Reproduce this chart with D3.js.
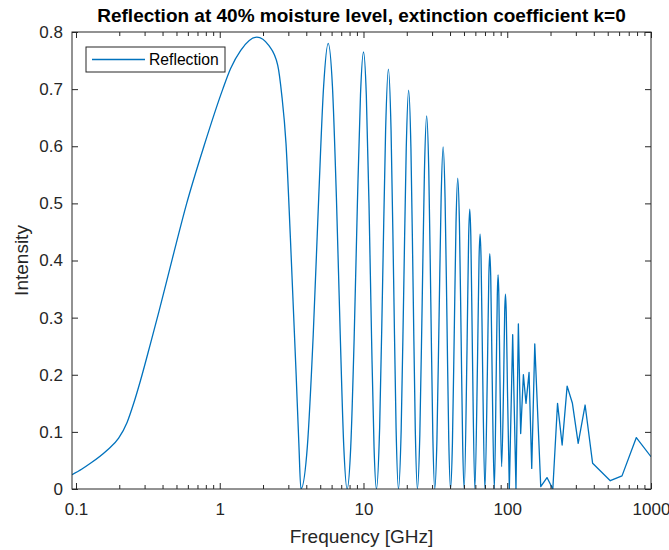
<!DOCTYPE html>
<html>
<head>
<meta charset="utf-8">
<script src="https://cdn.jsdelivr.net/npm/d3@7"></script>
<style>
  body { margin: 0; background: #fff; }
  svg { display: block; font-family: "Liberation Sans", Arial, Helvetica, sans-serif; }
  .tick text { fill: #262626; }
</style>
</head>
<body>
<svg id="chart"></svg>
<script>
// values
var freqGHz = [
  0.0938, 0.11, 0.126, 0.1646, 0.198, 0.227, 0.252, 0.281, 0.33, 0.377, 0.47, 0.589, 0.776, 1.05, 1.19, 1.4, 1.81, 2.2, 2.53, 2.7, 2.89, 3.1, 3.4, 3.55, 3.67,
  4.07, 4.47, 4.88, 5.28, 5.68, 6.08, 6.48, 6.89, 7.29, 7.69,
  8.15, 8.61, 9.07, 9.53, 10.0, 10.46, 10.92, 11.38, 11.84, 12.3,
  12.95, 13.6, 14.25, 14.9, 15.55, 16.2, 16.85, 17.5,
  18.28, 19.05, 19.83, 20.6, 21.38, 22.15, 22.93, 23.7,
  24.65, 25.6, 26.55, 27.5, 28.45, 29.4, 30.35, 31.3,
  32.43, 33.55, 34.68, 35.8, 36.93, 38.05, 39.18, 40.3,
  41.54, 42.78, 44.01, 45.25, 46.49, 47.73, 48.96, 50.2,
  52.5, 53.9, 54.85, 55.8, 57.2, 59.5,
  62.1, 63.66, 64.7, 65.74, 67.3, 69.9,
  72.75, 74.46, 75.6, 76.74, 78.45, 81.3,
  83.8, 85.3, 86.35, 87.4, 88.9, 91.4,
  94.4, 96.0, 97.2, 98.4, 100.4, 103.4,
  109.1, 115, 119.5, 124, 129.5, 135, 141.8, 148, 155.4, 171, 189, 207.5,
  223.8, 240.9, 261, 284, 311.5, 348, 392.6, 521, 628.6, 790.7, 1000
];
var reflection = [
  0.025, 0.035, 0.045, 0.068, 0.089, 0.117, 0.15, 0.19, 0.255, 0.31, 0.405, 0.50, 0.60, 0.70, 0.736, 0.768, 0.791, 0.776, 0.742, 0.69, 0.605, 0.44, 0.20, 0.08, 0,
  0.075, 0.27, 0.51, 0.705, 0.78, 0.705, 0.51, 0.27, 0.075, 0,
  0.073, 0.264, 0.50, 0.69, 0.765, 0.69, 0.50, 0.264, 0.073, 0,
  0.107, 0.368, 0.628, 0.735, 0.628, 0.368, 0.107, 0,
  0.102, 0.349, 0.596, 0.698, 0.596, 0.349, 0.102, 0,
  0.095, 0.327, 0.558, 0.653, 0.558, 0.327, 0.095, 0,
  0.087, 0.30, 0.51, 0.599, 0.51, 0.30, 0.087, 0,
  0.079, 0.272, 0.465, 0.544, 0.465, 0.272, 0.079, 0,
  0.245, 0.443, 0.49, 0.443, 0.245, 0,
  0.223, 0.404, 0.446, 0.404, 0.223, 0,
  0.206, 0.373, 0.412, 0.373, 0.206, 0,
  0.20, 0.34, 0.375, 0.34, 0.20, 0.039,
  0.19, 0.31, 0.341, 0.31, 0.17, 0,
  0.27, 0, 0.289, 0.097, 0.20, 0.15, 0.204, 0.036, 0.254, 0.004, 0.02, 0,
  0.15, 0.077, 0.18, 0.15, 0.08, 0.147, 0.045, 0.0145, 0.023, 0.09, 0.0565
];
// above this frequency the curve is drawn as straight segments (coarse sampling)
var smoothUpTo = 103.4;

var xTicks = [0.1, 1, 10, 100, 1000];
var xTickLabels = ["0.1", "1", "10", "100", "1000"];
var xMinorTicks = [0.2,0.3,0.4,0.5,0.6,0.7,0.8,0.9, 2,3,4,5,6,7,8,9, 20,30,40,50,60,70,80,90, 200,300,400,500,600,700,800,900];
var yTicks = [0, 0.1, 0.2, 0.3, 0.4, 0.5, 0.6, 0.7, 0.8];
var yTickLabels = ["0", "0.1", "0.2", "0.3", "0.4", "0.5", "0.6", "0.7", "0.8"];

var titleText = "Reflection at 40% moisture level, extinction coefficient k=0";
var xLabel = "Frequency [GHz]";
var yLabel = "Intensity";
var seriesName = "Reflection";

var width = 669, height = 550;
var margin = { top: 32, right: 18, bottom: 61, left: 72 };
var plotW = width - margin.left - margin.right;
var plotH = height - margin.top - margin.bottom;
var axisColor = "#262626";
var lineColor = "#0072BD";

var svg = d3.select("#chart").attr("width", width).attr("height", height);
svg.append("rect").attr("width", width).attr("height", height).attr("fill", "#fff");

var x = d3.scaleLog().domain([0.0938, 1000]).range([0, plotW]);
var y = d3.scaleLinear().domain([0, 0.8]).range([plotH, 0]);

var g = svg.append("g").attr("transform", "translate(" + margin.left + "," + margin.top + ")");

g.append("clipPath").attr("id", "clip")
  .append("rect").attr("width", plotW).attr("height", plotH);

var points = freqGHz.map(function(f, i) { return [f, reflection[i]]; });
var smoothPart = points.filter(function(d) { return d[0] <= smoothUpTo; });
var roughPart = points.filter(function(d) { return d[0] >= smoothUpTo; });

var smoothLine = d3.line()
  .curve(d3.curveMonotoneX)
  .x(function(d) { return x(d[0]); })
  .y(function(d) { return y(d[1]); });
var roughLine = d3.line()
  .x(function(d) { return x(d[0]); })
  .y(function(d) { return y(d[1]); });

g.append("path")
  .attr("clip-path", "url(#clip)")
  .attr("fill", "none")
  .attr("stroke", lineColor)
  .attr("stroke-width", 1.3)
  .attr("stroke-linejoin", "round")
  .attr("d", smoothLine(smoothPart) + roughLine(roughPart).replace(/^M/, "L"));

function styleAxis(sel) {
  sel.select(".domain").remove();
  sel.selectAll(".tick line").attr("stroke", axisColor);
}

// bottom axis
g.append("g").attr("transform", "translate(0," + plotH + ")")
  .call(d3.axisBottom(x).tickValues(xTicks).tickFormat(function(d, i) { return xTickLabels[i]; })
    .tickSizeInner(-6).tickSizeOuter(0).tickPadding(14))
  .call(styleAxis)
  .selectAll("text").attr("font-size", "17px");
g.append("g").attr("transform", "translate(0," + plotH + ")")
  .call(d3.axisBottom(x).tickValues(xMinorTicks).tickFormat("").tickSizeInner(-4).tickSizeOuter(0))
  .call(styleAxis);
// top axis
g.append("g")
  .call(d3.axisTop(x).tickValues(xTicks).tickFormat("").tickSizeInner(-6).tickSizeOuter(0))
  .call(styleAxis);
g.append("g")
  .call(d3.axisTop(x).tickValues(xMinorTicks).tickFormat("").tickSizeInner(-4).tickSizeOuter(0))
  .call(styleAxis);
// left axis
g.append("g")
  .call(d3.axisLeft(y).tickValues(yTicks).tickFormat(function(d, i) { return yTickLabels[i]; })
    .tickSizeInner(-6).tickSizeOuter(0).tickPadding(9))
  .call(styleAxis)
  .selectAll("text").attr("font-size", "17px");
// right axis
g.append("g").attr("transform", "translate(" + plotW + ",0)")
  .call(d3.axisRight(y).tickValues(yTicks).tickFormat("").tickSizeInner(-6).tickSizeOuter(0))
  .call(styleAxis);

// box
g.append("rect")
  .attr("width", plotW).attr("height", plotH)
  .attr("fill", "none").attr("stroke", axisColor).attr("stroke-width", 1);

// title and labels
svg.append("text")
  .attr("x", margin.left + plotW / 2).attr("y", 22)
  .attr("text-anchor", "middle")
  .attr("font-size", "19px").attr("font-weight", "bold").attr("fill", "#000")
  .text(titleText);

svg.append("text")
  .attr("x", margin.left + plotW / 2).attr("y", 543)
  .attr("text-anchor", "middle")
  .attr("font-size", "19px").attr("fill", axisColor)
  .text(xLabel);

svg.append("text")
  .attr("transform", "translate(28," + (margin.top + plotH / 2) + ") rotate(-90)")
  .attr("text-anchor", "middle")
  .attr("font-size", "19px").attr("fill", axisColor)
  .text(yLabel);

// legend
var legend = svg.append("g").attr("transform", "translate(86,47)");
legend.append("rect")
  .attr("width", 139).attr("height", 25)
  .attr("fill", "#fff").attr("stroke", axisColor).attr("stroke-width", 1);
legend.append("line")
  .attr("x1", 6).attr("x2", 59).attr("y1", 12.5).attr("y2", 12.5)
  .attr("stroke", lineColor).attr("stroke-width", 1.3);
legend.append("text")
  .attr("x", 63).attr("y", 18)
  .attr("font-size", "15.7px").attr("fill", "#000")
  .text(seriesName);
</script>
</body>
</html>
